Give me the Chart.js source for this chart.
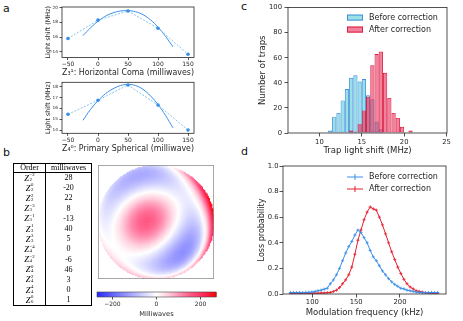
<!DOCTYPE html>
<html>
<head>
<meta charset="utf-8">
<script src="https://cdn.jsdelivr.net/npm/chart.js@4.4.1/dist/chart.umd.min.js"></script>
<style>
  body { margin: 0; width: 463px; height: 321px; position: relative; overflow: hidden; background: #fff; font-family: "DejaVu Sans", sans-serif; }
  canvas { position: absolute; }
  .panel { position: absolute; font-size: 11px; line-height: 1; color: #111; }
  #zernikeTable { position: absolute; left: 13px; top: 163px; width: 79px; border-collapse: collapse; border: 1px solid #000;
    font-family: "Liberation Serif", serif; font-size: 8px; table-layout: fixed; color: #000; filter: grayscale(1); }
  #zernikeTable td, #zernikeTable th { padding: 0; text-align: center; font-weight: normal; }
  #zernikeTable th { border-bottom: 1px solid #000; }
  #zernikeTable .c1 { width: 31px; border-right: 1px solid #000; }
  .cell { height: 10.2px; display: flex; align-items: center; justify-content: center; overflow: visible; }
  th .cell { height: 7.5px; }
  .z { font-style: italic; font-size: 8.5px; line-height: 8px; }
  .ss { display: inline-flex; flex-direction: column; font-style: normal; font-size: 4.8px; line-height: 4.4px; margin-left: 0.5px; text-align: left; }
</style>
</head>
<body>
<div class="panel" style="left:3px;top:3px">a</div>
<div class="panel" style="left:3px;top:147px">b</div>
<div class="panel" style="left:241px;top:1px">c</div>
<div class="panel" style="left:241px;top:146px">d</div>
<table id="zernikeTable"></table>

<script>
// ---- panel a : light shift against aberration amplitude
const scanSteps = [-50, 0, 50, 100, 150];
const comaShift = [15.8, 18.3, 19.55, 17.2, 13.65];
const sphericalShift = [15.45, 16.75, 18.15, 16.3, 14.0];
const fitSteps = [-25, -12.5, 0, 12.5, 25, 37.5, 50, 62.5, 75, 87.5, 100, 112.5, 125];
const comaFit = [16.2, 17.25, 18.15, 18.85, 19.3, 19.55, 19.6, 19.45, 19.05, 18.35, 17.35, 16.1, 14.65];
const sphericalFit = [14.9, 15.9, 16.7, 17.35, 17.8, 18.1, 18.2, 18.1, 17.75, 17.15, 16.35, 15.35, 14.2];
const scanTicks = [-50, 0, 50, 100, 150];
const comaTicks = [14, 16, 18, 20];
const sphericalTicks = [14, 15, 16, 17, 18];

// ---- panel b : zernike correction
const zernikeN = [2, 2, 2, 3, 3, 3, 3, 4, 4, 4, 4, 4, 6];
const zernikeM = [-2, 0, 2, -3, -1, 1, 3, -4, -2, 0, 2, 4, 0];
const zernikeMilliwaves = [28, -20, 22, 8, -13, 40, 5, 0, -6, 46, 3, 0, 1];
const colorLimit = 270;
const colorTicks = [-200, 0, 200];

// ---- panel c : histogram of trap light shifts (0.5 MHz bins)
const binCenters = [11.25, 11.75, 12.25, 12.75, 13.25, 13.75, 14.25, 14.75, 15.25, 15.75,
                    16.25, 16.75, 17.25, 17.75, 18.25, 18.75, 19.25, 19.75, 20.25, 20.75];
const beforeCounts = [2, 13, 16, 26, 35, 44, 46, 41, 43, 30, 27, 9, 3, 0, 0, 0, 0, 0, 0, 0];
const afterCounts = [0, 0, 0, 0, 0, 2, 1, 7, 18, 29, 54, 63, 65, 48, 28, 16, 12, 5, 0, 2];
const shiftTicks = [10, 15, 20, 25];
const countTicks = [0, 20, 40, 60, 80, 100];

// ---- panel d : loss spectra
const modFreq = [75, 78.5, 82, 85.5, 89, 92.5, 96, 99.5, 103, 106.5, 110, 113.5, 117, 120.5, 124, 127.5,
                 131, 134.5, 138, 141.5, 145, 148.5, 152, 155.5, 159, 162.5, 166, 169.5, 173, 176.5, 180,
                 183.5, 187, 190.5, 194, 197.5, 201, 204.5, 208, 211.5, 215, 218.5, 222, 225.5, 229,
                 232.5, 236, 239.5, 243];
const lossBefore = [0.012, 0.012, 0.01, 0.012, 0.01, 0.012, 0.013, 0.015, 0.02, 0.025, 0.03, 0.038, 0.045, 0.08, 0.11, 0.15,
                    0.2, 0.26, 0.32, 0.37, 0.41, 0.46, 0.5, 0.48, 0.44, 0.4, 0.34, 0.29, 0.26, 0.22, 0.18,
                    0.15, 0.12, 0.095, 0.075, 0.06, 0.045, 0.04, 0.03, 0.025, 0.02, 0.015, 0.012, 0.01, 0.01,
                    0.01, 0.012, 0.01, 0.012];
const lossAfter = [0.005, 0.005, 0.006, 0.005, 0.005, 0.006, 0.005, 0.006, 0.007, 0.006, 0.008, 0.008, 0.01, 0.012, 0.02, 0.03,
                   0.05, 0.08, 0.11, 0.15, 0.21, 0.31, 0.42, 0.5, 0.58, 0.64, 0.68, 0.665, 0.655, 0.6, 0.54,
                   0.47, 0.4, 0.33, 0.27, 0.21, 0.16, 0.115, 0.08, 0.055, 0.04, 0.025, 0.02, 0.015, 0.01,
                   0.008, 0.006, 0.005, 0.005];
const freqTicks = [100, 150, 200];
const lossTicks = [0, 0.2, 0.4, 0.6, 0.8, 1.0];

const ink = '#262626';
const blue = '#3a8ee8';
const red = '#e42030';
Chart.defaults.font.family = '"DejaVu Sans", sans-serif';

const minus = v => (v < 0 ? '\u2212' + Math.abs(v) : String(v));

function axis(o) {
  return {
    type: 'linear', min: o.min, max: o.max, display: true, offset: false,
    afterBuildTicks: s => { s.ticks = o.ticks.map(v => ({ value: v })); },
    afterFit: s => { if (s.isHorizontal()) s.height = o.size; else s.width = o.size; },
    grid: { drawOnChartArea: false, drawTicks: true, tickLength: o.tickLen || 3, color: ink, lineWidth: 0.8, offset: false },
    border: { display: false },
    ticks: { font: { size: o.tickSize }, color: ink, padding: o.pad || 1, maxRotation: 0, autoSkip: false,
             callback: o.fmt || minus },
    title: { display: !!o.title, text: o.title, font: { size: o.titleSize }, color: ink, padding: 0 }
  };
}

// size of the axis box so that the axis title lands on a given centre
const yBox = (left, centre, size) => left - centre + size * 0.6;
const xBox = (bottom, centre, size) => centre - bottom + size * 0.6;

function framePlugin(color, width) {
  return {
    id: 'frame',
    afterDatasetsDraw(chart) {
      const { ctx, chartArea: a } = chart;
      ctx.save();
      ctx.strokeStyle = color; ctx.lineWidth = width;
      ctx.strokeRect(a.left, a.top, a.right - a.left, a.bottom - a.top);
      ctx.restore();
    }
  };
}

function legendPlugin(dx, dy, gap, kind) {
  return {
    id: 'insideLegend',
    afterDraw(chart) {
      const { ctx, chartArea } = chart;
      ctx.save();
      ctx.font = '8px "DejaVu Sans"';
      ctx.textBaseline = 'middle';
      chart.data.datasets.forEach((ds, i) => {
        const x = chartArea.left + dx, y = chartArea.top + dy + i * gap;
        if (kind === 'bar') {
          ctx.fillStyle = ds.backgroundColor; ctx.fillRect(x, y - 3, 16, 6);
          ctx.strokeStyle = ds.borderColor; ctx.lineWidth = 1; ctx.strokeRect(x + 0.5, y - 2.5, 15, 5);
        } else {
          ctx.strokeStyle = ds.borderColor; ctx.lineWidth = 1;
          ctx.beginPath(); ctx.moveTo(x, y); ctx.lineTo(x + 16, y);
          ctx.moveTo(x + 8, y - 3); ctx.lineTo(x + 8, y + 3); ctx.stroke();
        }
        ctx.fillStyle = ink;
        ctx.fillText(ds.label, x + 22, y);
      });
      ctx.restore();
    }
  };
}

function makeChart(area, yw, xh, config, pads) {
  const p = Object.assign({ l: 0, t: 6, r: 14, b: 0 }, pads || {});
  const [l, t, r, b] = area;
  const left = Math.floor(l - yw - p.l), top = Math.floor(t - p.t);
  const width = Math.ceil(r + p.r - left), height = Math.ceil(b + xh + p.b - top);
  const cv = document.createElement('canvas');
  cv.width = width; cv.height = height;
  cv.style.left = left + 'px'; cv.style.top = top + 'px';
  cv.style.width = width + 'px'; cv.style.height = height + 'px';
  document.body.appendChild(cv);
  config.options = Object.assign({
    responsive: false, animation: false, devicePixelRatio: 1, events: [],
    layout: { padding: { left: l - yw - left, top: t - top, right: left + width - r, bottom: top + height - b - xh } }
  }, config.options);
  config.options.plugins = Object.assign({ legend: { display: false }, tooltip: { enabled: false } }, config.options.plugins);
  return new Chart(cv, config);
}

// ---------- panel a
function scanChart(area, shift, fit, yMin, yMax, yTicks, xTitle) {
  const yw = yBox(62, 48, 6.4);
  const xh = xBox(area[3], area[3] + 15.8, 8);
  makeChart(area, yw, xh, {
    type: 'scatter',
    data: {
      datasets: [
        { data: scanSteps.map((x, i) => ({ x, y: shift[i] })), showLine: true, borderColor: '#84c6ee',
          borderWidth: 1, borderDash: [2, 1.5], pointRadius: 1.8, pointBackgroundColor: blue, pointBorderWidth: 0 },
        { data: fitSteps.map((x, i) => ({ x, y: fit[i] })), showLine: true, borderColor: blue,
          borderWidth: 1, pointRadius: 0, tension: 0.4 }
      ]
    },
    options: {
      scales: {
        x: axis({ min: -60, max: 160, ticks: scanTicks, size: xh, tickSize: 6, tickLen: 2.5, pad: 1, title: xTitle, titleSize: 8 }),
        y: axis({ min: yMin, max: yMax, ticks: yTicks, size: yw, tickSize: 4.3, tickLen: 2.5, pad: 1.5, title: 'Light shift (MHz)', titleSize: 6.4 })
      }
    },
    plugins: [framePlugin(ink, 0.8)]
  });
}
scanChart([62, 7, 194, 57.5], comaShift, comaFit, 13.2, 20.1, comaTicks, 'Z\u2083\u00b9: Horizontal Coma (milliwaves)');
scanChart([62, 82.3, 194, 133.3], sphericalShift, sphericalFit, 13.7, 18.4, sphericalTicks, 'Z\u2084\u2070: Primary Spherical (milliwave)');

// ---------- panel b : table
const table = document.getElementById('zernikeTable');
let rows = '<tr><th class="c1"><div class="cell">Order</div></th><th><div class="cell">milliwaves</div></th></tr>';
zernikeN.forEach((n, i) => {
  const m = zernikeM[i] < 0 ? '\u2212' + Math.abs(zernikeM[i]) : String(zernikeM[i]);
  rows += '<tr><td class="c1"><div class="cell"><span class="z">Z</span><span class="ss"><span>' + m + '</span><span>' + n +
          '</span></span></div></td><td><div class="cell">' + zernikeMilliwaves[i] + '</div></td></tr>';
});
table.innerHTML = rows;

// ---------- panel b : wavefront map from the zernike coefficients
function fact(n) { let f = 1; for (let i = 2; i <= n; i++) f *= i; return f; }
function radial(n, m, r) {
  let s = 0;
  for (let k = 0; k <= (n - m) / 2; k++) {
    s += (k % 2 ? -1 : 1) * fact(n - k) / (fact(k) * fact((n + m) / 2 - k) * fact((n - m) / 2 - k)) * Math.pow(r, n - 2 * k);
  }
  return s;
}
function zernike(n, m, r, th) {
  const am = Math.abs(m);
  const norm = m === 0 ? Math.sqrt(n + 1) : Math.sqrt(2 * (n + 1));
  const ang = m > 0 ? Math.cos(am * th) : m < 0 ? Math.sin(am * th) : 1;
  return norm * radial(n, am, r) * ang;
}
function wavefront(x, y) {
  const r = Math.hypot(x, y), th = Math.atan2(y, x);
  return zernikeN.reduce((s, n, i) => s + zernikeMilliwaves[i] * zernike(n, zernikeM[i], r, th), 0);
}
// blue - white - pink - red colour map
const cmapStops = [-1, -0.5, 0, 0.2, 0.4, 0.6, 0.8, 1];
const cmapColors = [[40, 40, 255], [150, 150, 255], [255, 255, 255], [255, 205, 220], [255, 140, 175],
                    [255, 80, 125], [255, 40, 85], [255, 0, 0]];
function colorFor(v) {
  const t = Math.max(-1, Math.min(1, v / colorLimit));
  let k = 0;
  while (k < cmapStops.length - 2 && t > cmapStops[k + 1]) k++;
  const a = (t - cmapStops[k]) / (cmapStops[k + 1] - cmapStops[k]);
  const c = cmapColors[k].map((c0, j) => c0 + a * (cmapColors[k + 1][j] - c0));
  return 'rgb(' + c.map(Math.round).join(',') + ')';
}

const heatPlugin = {
  id: 'wavefrontMap',
  beforeDatasetsDraw(chart) {
    const { ctx, scales: { x, y } } = chart;
    const n = 100, step = 2 / n;
    for (let i = 0; i < n; i++) {
      for (let j = 0; j < n; j++) {
        const cx = -1 + (i + 0.5) * step, cy = -1 + (j + 0.5) * step;
        if (cx * cx + cy * cy > 1) continue;
        const x0 = x.getPixelForValue(cx - step / 2), x1 = x.getPixelForValue(cx + step / 2);
        const y0 = y.getPixelForValue(cy - step / 2), y1 = y.getPixelForValue(cy + step / 2);
        ctx.fillStyle = colorFor(wavefront(cx, cy));
        ctx.fillRect(x0, y1, x1 - x0 + 0.6, y0 - y1 + 0.6);
      }
    }
  }
};
makeChart([98, 165, 214, 279], 0, 0, {
  type: 'scatter',
  data: { datasets: [] },
  options: {
    scales: {
      x: { type: 'linear', min: -1, max: 1, display: false },
      y: { type: 'linear', min: -1, max: 1, display: false }
    }
  },
  plugins: [heatPlugin, framePlugin('#8a8a8a', 1.5)]
}, { l: 0, t: 0, r: 0, b: 0 });

// colour bar
const barPlugin = {
  id: 'colorbar',
  beforeDatasetsDraw(chart) {
    const { ctx, chartArea: a, scales: { x } } = chart;
    const n = 180, step = 2 * colorLimit / n;
    for (let i = 0; i < n; i++) {
      const v0 = -colorLimit + i * step;
      const p0 = x.getPixelForValue(v0), p1 = x.getPixelForValue(v0 + step);
      ctx.fillStyle = colorFor(v0 + step / 2);
      ctx.fillRect(p0, a.top, p1 - p0 + 0.6, a.bottom - a.top);
    }
  }
};
const cbXh = xBox(297, 314, 6.7);
makeChart([97, 292, 216, 297], 0, cbXh, {
  type: 'scatter',
  data: { datasets: [] },
  options: {
    scales: {
      x: axis({ min: -colorLimit, max: colorLimit, ticks: colorTicks, size: cbXh, tickSize: 6, tickLen: 2.5, pad: 1, title: 'Milliwaves', titleSize: 6.7 }),
      y: { type: 'linear', min: 0, max: 1, display: false }
    }
  },
  plugins: [barPlugin, framePlugin('#444', 0.6)]
}, { l: 10, t: 2, r: 10, b: 0 });

// ---------- panel c : histogram
const cYw = yBox(288, 263, 8.5), cXh = xBox(133, 151, 8.5);
makeChart([288, 7, 447, 133], cYw, cXh, {
  type: 'bar',
  data: {
    datasets: [
      { label: 'Before correction', data: binCenters.map((x, i) => ({ x, y: beforeCounts[i] })),
        backgroundColor: 'rgba(70,200,210,0.55)', borderColor: '#4790e0', borderWidth: 0.9, order: 2 },
      { label: 'After correction', data: binCenters.map((x, i) => ({ x, y: afterCounts[i] })),
        backgroundColor: 'rgba(232,45,95,0.6)', borderColor: '#dc1f3c', borderWidth: 0.9, order: 1 }
    ]
  },
  options: {
    datasets: { bar: { grouped: false, barPercentage: 1, categoryPercentage: 1, borderSkipped: false, inflateAmount: 0 } },
    scales: {
      x: axis({ min: 6.3, max: 25.05, ticks: shiftTicks, size: cXh, tickSize: 6.8, tickLen: 3.5, pad: 1.3, title: 'Trap light shift (MHz)', titleSize: 8.5 }),
      y: axis({ min: 0, max: 100, ticks: countTicks, size: cYw, tickSize: 6.8, tickLen: 3.5, pad: 2.5, title: 'Number of traps', titleSize: 8.5 })
    }
  },
  plugins: [framePlugin(ink, 0.8), legendPlugin(59, 10, 12, 'bar')]
});

// ---------- panel d : loss spectra
const dYw = yBox(283, 262, 8), dXh = xBox(294, 313, 8.5);
makeChart([283, 166, 446, 294], dYw, dXh, {
  type: 'scatter',
  data: {
    datasets: [
      { label: 'Before correction', data: modFreq.map((x, i) => ({ x, y: lossBefore[i] })), showLine: true,
        borderColor: blue, borderWidth: 1, pointStyle: 'cross', pointRadius: 1.6, pointBorderColor: blue, pointBorderWidth: 0.8 },
      { label: 'After correction', data: modFreq.map((x, i) => ({ x, y: lossAfter[i] })), showLine: true,
        borderColor: red, borderWidth: 1, pointStyle: 'cross', pointRadius: 1.6, pointBorderColor: red, pointBorderWidth: 0.8 }
    ]
  },
  options: {
    scales: {
      x: axis({ min: 66.5, max: 252.5, ticks: freqTicks, size: dXh, tickSize: 6.8, tickLen: 3.5, pad: 0.5, title: 'Modulation frequency (kHz)', titleSize: 8.5 }),
      y: axis({ min: 0, max: 1, ticks: lossTicks, size: dYw, tickSize: 6.8, tickLen: 3.5, pad: 1, title: 'Loss probability', titleSize: 8,
                fmt: v => v.toFixed(1) })
    }
  },
  plugins: [framePlugin(ink, 0.8), legendPlugin(64, 11, 12, 'line')]
});
</script>
</body>
</html>
